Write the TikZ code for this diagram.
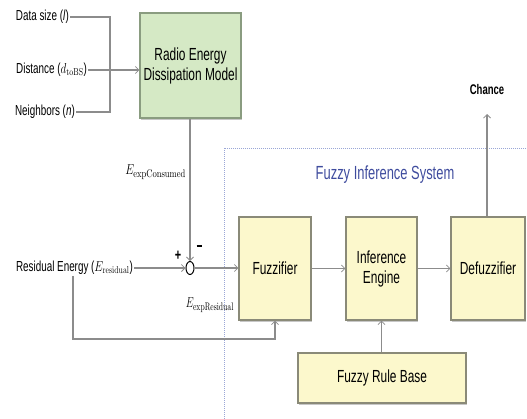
\documentclass[tikz,border=0pt]{standalone}
\usepackage[no-math]{fontspec}
\setmainfont[FakeStretch=0.68]{Liberation Sans}
\usetikzlibrary{arrows.meta,shapes.geometric,shadows}
\definecolor{linec}{HTML}{8C8C8C}
\definecolor{yfill}{HTML}{FCF8CC}
\definecolor{yborder}{HTML}{8A8A78}
\definecolor{gfill}{HTML}{D5E9C5}
\definecolor{gborder}{HTML}{8A9C80}
\definecolor{fisblue}{HTML}{3F4C9E}
\definecolor{dashc}{HTML}{9AA6D6}
\tikzset{
  conn/.style={draw=linec, line width=1.1pt},
  arr/.style={conn, -{Straight Barb[length=3.5pt,width=7pt,line width=0.8pt]}},
  lbl/.style={font=\fontsize{14.5}{16}\selectfont, inner sep=1pt},
  ybox/.style={draw=yborder, fill=yfill, line width=1.2pt, align=center,
    font=\fontsize{17.5}{20}\selectfont, inner sep=0pt,
    drop shadow={shadow xshift=1.2pt, shadow yshift=-1.5pt, fill=gray!55, opacity=0.8}},
  gbox/.style={draw=gborder, fill=gfill, line width=1.2pt, align=center,
    font=\fontsize{17.5}{20}\selectfont, inner sep=0pt,
    drop shadow={shadow xshift=1.2pt, shadow yshift=-1.5pt, fill=gray!55, opacity=0.8}},
}
\newcommand{\sq}[1]{\scalebox{0.78}[1]{#1}}
\begin{document}
\begin{tikzpicture}[x=1pt,y=-1pt]
\useasboundingbox (0,0) rectangle (527,418);
% dashed FIS frame
\draw[draw=dashc, line width=0.8pt, dash pattern=on 1pt off 1pt] (530,148) -- (224,148) -- (224,425);
\node[text=fisblue, font=\fontsize{19}{22}\selectfont] (fistitle) at (385,175) {Fuzzy Inference System};

% inputs
\node[lbl, anchor=east] (ds) at (70,17) {Data size (\textit{l})};
\node[lbl, anchor=east] (dist) at (88,70) {Distance (\sq{$d_{\mathrm{toBS}}$})};
\node[lbl, anchor=east] (nb) at (76,112) {Neighbors (\textit{n})};
\coordinate (jt) at (110,17);
\coordinate (jb) at (110,112);

% green box
\node[gbox, minimum width=101pt, minimum height=105pt] (radio) at (190.5,65.5) {Radio Energy\\Dissipation Model};

\draw[conn] (ds.east) -- (jt) -- (jb) -- (nb.east);
\draw[arr] (dist.east) -- (dist.east -| radio.west);

% summing junction
\node[draw=black, line width=1pt, ellipse, minimum width=8pt, minimum height=13pt, inner sep=0pt] (sum) at (190,268) {};
\draw[arr] (radio.south -| sum.north) -- (sum.north);
\node[font=\fontsize{15}{16}\selectfont, anchor=east, inner sep=0pt] (econs) at (186,172) {\sq{$E_{\mathrm{expConsumed}}$}};
\node[font=\bfseries\fontsize{16}{16}\selectfont] (plus) at (178,256) {+};
\node[inner sep=0pt] (minus) at (199,246) {\rule{5pt}{1.1pt}};

\node[lbl, anchor=east] (res) at (134,268) {Residual Energy (\sq{$E_{\mathrm{residual}}$})};
\draw[arr] (res.east) -- (sum.west);

% FIS boxes
\node[ybox, minimum width=72pt, minimum height=103pt] (fuzz) at (275,268.5) {Fuzzifier};
\node[ybox, minimum width=71pt, minimum height=103pt] (inf) at (381.5,268.5) {Inference\\Engine};
\node[ybox, minimum width=74pt, minimum height=103pt] (defuzz) at (488,268.5) {Defuzzifier};
\node[ybox, minimum width=168pt, minimum height=50pt] (rule) at (382,378) {Fuzzy Rule Base};

\draw[arr] (sum.east) -- (fuzz.west |- sum.east);
\node[font=\fontsize{15}{16}\selectfont, anchor=east, inner sep=0pt] (eres) at (234,305) {\scalebox{0.7}[1]{$E_{\mathrm{expResidual}}$}};
\draw[arr] (fuzz.east) -- (inf.west);
\draw[arr] (inf.east) -- (defuzz.west);
\draw[arr] (rule.north -| inf.south) -- (inf.south);

\coordinate (fbl) at (73,339);
\coordinate (fbr) at (275,339);
\draw[arr] (res.south -| fbl) -- (fbl) -- (fbr) -- (fuzz.south);

\node[font=\bfseries\fontsize{14}{16}\selectfont] (chance) at (487,89) {Chance};
\coordinate (chtip) at (487,114);
\draw[arr] (defuzz.north -| chtip) -- (chtip);
\end{tikzpicture}
\end{document}
